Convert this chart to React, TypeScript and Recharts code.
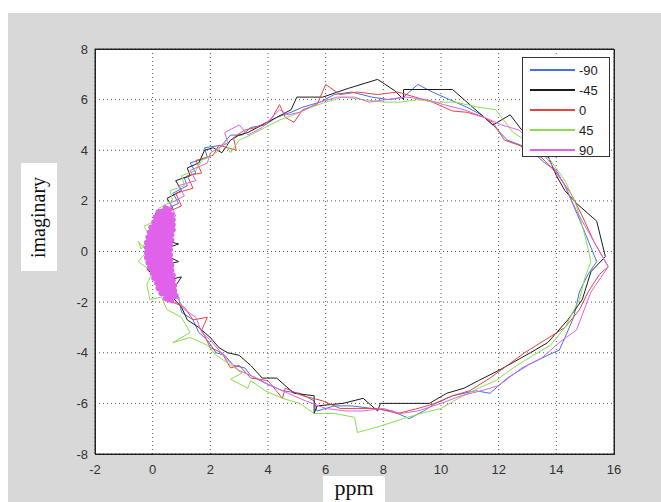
import { LineChart, Line, XAxis, YAxis, CartesianGrid } from 'recharts'

const X_TICKS = [-2, 0, 2, 4, 6, 8, 10, 12, 14, 16]
const Y_TICKS = [-8, -6, -4, -2, 0, 2, 4, 6, 8]

const LABELS = ['-90', '-45', '0', '45', '90']

const M90: [number, number][] = [
  [0.1, -0.5], [0.4, 0.3], [0.1, 0.8], [0.6, 1.2], [0.3, 1.6], [0.9, 1.9], [0.7, 2.3], [1.2, 2.6], [1.1, 2.9],
  [1.5, 3.1], [1.3, 3.5], [1.9, 3.7], [1.8, 4.1], [2.4, 4.2], [2.7, 4.6], [3.1, 4.6], [3.4, 4.9], [3.9, 5.0],
  [4.3, 5.3], [4.8, 5.5], [5.2, 5.7], [5.8, 5.9], [6.3, 6.2], [6.9, 6.3], [7.6, 6.1], [8.2, 6.0], [8.7, 6.1],
  [9.2, 6.6], [9.7, 6.3], [10.3, 6.0], [10.9, 5.7], [11.4, 5.4], [11.8, 5.0], [12.3, 4.4], [13.0, 4.1],
  [13.6, 3.5], [14.0, 3.2], [14.3, 2.6], [14.6, 1.8], [14.9, 1.0], [15.4, -0.4], [15.1, -0.9], [14.8, -1.6],
  [14.6, -2.6], [14.3, -3.4], [14.1, -3.9], [13.7, -4.1], [13.0, -4.5], [12.3, -5.0], [11.7, -5.6], [11.2, -5.5],
  [10.4, -5.7], [9.8, -6.0], [9.4, -6.3], [8.9, -6.6], [8.3, -6.3], [7.6, -6.2], [6.9, -6.1], [6.3, -6.1],
  [5.7, -6.3], [5.6, -5.9], [5.1, -5.6], [4.5, -5.5], [3.9, -5.2], [3.4, -4.9], [3.2, -4.6], [2.8, -4.5],
  [2.5, -4.1], [2.2, -4.0], [1.9, -3.5], [1.6, -3.2], [1.4, -2.7], [1.0, -2.4], [0.9, -1.8], [0.5, -1.4],
  [0.3, -0.9], [0.1, -0.5],
]

const M45: [number, number][] = [
  [0.2, 0.0], [0.9, 0.3], [-0.2, 0.6], [0.3, 1.0], [0.1, 1.5], [0.7, 1.7], [0.5, 2.1], [1.0, 2.4], [0.8, 2.8],
  [1.3, 3.0], [1.2, 3.3], [1.6, 3.5], [1.8, 4.0], [2.1, 4.1], [2.4, 3.9], [2.7, 4.4], [3.0, 4.6], [3.3, 4.7],
  [3.8, 5.0], [4.3, 5.3], [4.8, 5.6], [5.0, 6.1], [5.9, 6.1], [6.8, 6.45], [7.8, 6.8], [8.4, 6.35], [8.7, 6.0],
  [8.7, 6.4], [10.4, 6.4], [10.8, 6.0], [11.8, 5.0], [12.4, 5.4], [12.8, 4.8], [13.3, 4.3], [13.7, 3.8],
  [14.0, 3.0], [14.3, 2.4], [14.7, 1.9], [15.4, 1.2], [15.7, -0.2], [15.2, -0.8], [14.9, -1.9], [14.4, -2.7],
  [13.7, -3.6], [13.1, -4.0], [12.0, -4.7], [11.3, -5.1], [10.8, -5.4], [10.2, -5.6], [9.6, -6.0], [8.7, -6.0],
  [7.9, -6.0], [7.8, -6.3], [7.3, -5.8], [6.6, -6.0], [5.7, -6.1], [5.6, -6.4], [5.6, -5.7], [4.9, -5.6],
  [4.3, -5.0], [3.8, -5.0], [3.4, -4.5], [3.0, -4.1], [2.6, -4.0], [2.3, -3.8], [2.0, -3.4], [1.6, -3.0],
  [1.2, -2.7], [1.0, -2.2], [0.6, -1.7], [1.0, -1.0], [0.3, -1.2], [-0.2, -0.7], [0.9, -0.4], [0.2, 0.0],
]

const P0: [number, number][] = [
  [0.3, -0.2], [0.1, 0.5], [0.6, 1.0], [0.4, 1.5], [1.0, 1.8], [0.8, 2.3], [1.4, 2.5], [1.2, 3.0], [1.7, 3.1],
  [1.5, 3.6], [2.1, 3.8], [2.3, 4.2], [2.9, 4.0], [2.8, 4.5], [3.2, 4.8], [3.6, 4.9], [4.1, 5.2], [4.4, 5.8],
  [4.6, 5.3], [4.9, 5.1], [5.2, 5.6], [5.7, 5.8], [6.0, 6.6], [6.5, 6.2], [7.1, 6.3], [7.8, 6.2], [8.5, 6.3],
  [9.1, 6.1], [9.7, 5.9], [10.4, 5.55], [10.9, 5.5], [11.5, 5.3], [11.8, 5.1], [12.2, 4.4], [12.7, 4.2],
  [13.5, 3.7], [14.0, 3.1], [14.5, 2.3], [14.9, 1.4], [15.3, 0.4], [15.8, -0.6], [15.5, -0.9], [15.1, -1.6],
  [14.8, -2.3], [14.3, -3.0], [13.6, -3.5], [12.9, -4.0], [12.3, -4.5], [11.7, -5.0], [11.0, -5.5], [10.4, -5.7],
  [9.8, -6.0], [9.2, -6.2], [8.5, -6.4], [7.8, -6.2], [7.1, -6.2], [6.5, -6.2], [5.9, -5.9], [5.2, -5.7],
  [4.6, -5.4], [4.5, -5.8], [4.0, -5.1], [3.4, -5.0], [3.0, -4.5], [2.7, -4.6], [2.4, -4.0], [2.0, -3.8],
  [1.7, -3.1], [1.9, -2.6], [1.4, -2.7], [1.1, -2.2], [0.7, -2.0], [0.6, -1.4], [0.3, -0.9], [0.3, -0.2],
]

const P45: [number, number][] = [
  [-0.4, 0.1], [-0.1, 0.6], [-0.3, 1.0], [0.3, 1.3], [0.2, 1.7], [0.7, 2.0], [0.6, 2.4], [1.1, 2.6], [1.0, 3.0],
  [1.5, 3.2], [1.7, 3.6], [2.2, 3.9], [2.5, 4.3], [2.7, 3.9], [3.0, 4.4], [3.4, 4.6], [3.9, 4.9], [4.4, 5.2],
  [4.9, 5.4], [5.5, 5.7], [6.0, 5.9], [6.6, 6.1], [7.3, 6.0], [8.0, 5.9], [8.6, 5.9], [9.2, 6.0], [9.8, 5.9],
  [10.5, 5.9], [11.3, 5.7], [11.9, 5.6], [12.5, 4.7], [13.2, 4.2], [13.8, 3.6], [14.3, 2.8], [14.7, 1.8],
  [15.0, 0.6], [15.2, -0.4], [15.0, -1.0], [14.8, -1.9], [14.3, -3.0], [13.8, -3.7], [13.2, -4.1], [12.5, -4.6],
  [11.9, -5.1], [11.3, -5.4], [10.6, -5.8], [10.0, -6.2], [9.3, -6.4], [8.7, -6.6], [7.9, -6.9], [7.1, -7.15],
  [7.0, -6.55], [6.3, -6.4], [5.6, -6.4], [5.1, -6.0], [4.5, -5.8], [3.9, -5.5], [3.4, -5.1], [3.3, -5.4],
  [2.7, -5.05], [3.1, -4.8], [2.6, -4.4], [2.2, -4.1], [1.9, -3.7], [1.3, -3.4], [0.7, -3.6], [1.3, -3.2],
  [1.0, -2.6], [0.5, -2.3], [0.3, -1.8], [-0.1, -1.9], [-0.2, -1.3], [0.0, -0.8], [-0.5, -0.4], [-0.2, 0.0],
  [-0.5, 0.4], [-0.4, 0.1],
]

const P90: [number, number][] = [
  [0.2, 0.0], [0.5, 0.6], [0.2, 1.1], [0.8, 1.4], [0.6, 1.9], [1.1, 2.2], [0.9, 2.6], [1.5, 2.8], [1.3, 3.2],
  [1.9, 3.5], [2.0, 3.9], [2.6, 4.3], [2.5, 4.7], [3.0, 5.0], [3.3, 4.6], [3.8, 4.9], [4.4, 5.6], [4.7, 5.4],
  [5.1, 5.5], [5.8, 5.9], [6.4, 6.1], [7.0, 6.1], [7.5, 5.9], [8.1, 6.0], [8.8, 6.1], [9.5, 6.0], [10.1, 5.8],
  [10.8, 5.6], [11.5, 5.3], [12.1, 5.0], [12.7, 4.8], [13.2, 4.3], [13.8, 3.5], [14.3, 2.6], [14.7, 1.6],
  [15.2, 0.6], [15.8, -0.6], [15.2, -1.6], [14.7, -3.1], [14.1, -3.6], [13.5, -4.2], [12.8, -4.6], [12.0, -5.3],
  [11.4, -5.5], [10.7, -5.7], [10.0, -6.0], [9.2, -6.3], [8.6, -6.4], [8.0, -6.2], [7.3, -6.3], [6.7, -6.3],
  [6.0, -6.2], [5.3, -5.9], [4.7, -5.6], [4.1, -5.3], [3.6, -5.0], [3.0, -4.7], [2.6, -4.3], [2.3, -3.9],
  [2.0, -3.5], [1.7, -3.2], [1.5, -2.6], [1.1, -2.3], [0.9, -1.9], [0.5, -1.5], [0.3, -0.8], [0.2, 0.0],
]

// dense part of the 90 trace near the origin
const P90_CORE: [number, number][] = [
  [0.35, 1.75], [0.55, 1.65], [0.2, 1.55], [0.65, 1.45], [0.1, 1.35], [0.7, 1.25], [0.05, 1.15], [0.7, 1.05],
  [-0.05, 0.95], [0.7, 0.85], [-0.1, 0.75], [0.65, 0.65], [-0.15, 0.55], [0.65, 0.45], [-0.2, 0.35], [0.6, 0.25],
  [-0.2, 0.15], [0.6, 0.05], [-0.2, -0.05], [0.6, -0.15], [-0.2, -0.25], [0.6, -0.35], [-0.15, -0.45],
  [0.65, -0.55], [-0.1, -0.65], [0.65, -0.75], [0.0, -0.85], [0.7, -0.95], [0.05, -1.05], [0.7, -1.15],
  [0.15, -1.25], [0.75, -1.35], [0.2, -1.45], [0.75, -1.55], [0.3, -1.65], [0.8, -1.75], [0.45, -1.85],
  [0.75, -1.95],
]

const COLORS = ['#4272e6', '#1c1c1c', '#e8453f', '#86e052', '#e062ea']
const SERIES = [M90, M45, P0, P45, P90]

const toPts = (arr: [number, number][]) => arr.map(([x, y]) => ({ x, y }))

const tickStyle = { fontSize: 13, fill: '#333', fontFamily: 'Liberation Sans, Arial, sans-serif' }

export default function App() {
  return (
    <div style={{ position: 'relative', width: 661, height: 502, background: '#fff', overflow: 'hidden' }}>
      <style>{'body{margin:0}'}</style>
      <div style={{ position: 'absolute', left: 8, top: 13, right: 0, bottom: 0, background: '#d8d8d8' }} />

      <div style={{ position: 'absolute', left: 0, top: 0 }}>
        <LineChart width={661} height={502} margin={{ top: 44, right: 42, bottom: 18, left: 55 }}>
          <CartesianGrid
            stroke="#555"
            strokeDasharray="1 3"
            fill="#fff"
            fillOpacity={1}
            horizontalValues={Y_TICKS}
            verticalValues={X_TICKS}
          />
          <XAxis
            type="number"
            dataKey="x"
            domain={[-2, 16]}
            ticks={X_TICKS}
            height={30}
            tickSize={4}
            tickMargin={7}
            tickLine={false}
            axisLine={{ stroke: '#333' }}
            tick={tickStyle}
            interval={0}
            allowDataOverflow
          />
          <XAxis
            xAxisId="top"
            orientation="top"
            type="number"
            domain={[-2, 16]}
            ticks={X_TICKS}
            height={5}
            tick={false}
            tickLine={false}
            axisLine={{ stroke: '#333' }}
            interval={0}
          />
          <YAxis
            type="number"
            dataKey="y"
            domain={[-8, 8]}
            ticks={Y_TICKS}
            width={40}
            tickSize={0}
            tickMargin={7}
            tickLine={false}
            axisLine={{ stroke: '#333' }}
            tick={tickStyle}
            interval={0}
            allowDataOverflow
          />
          <YAxis
            yAxisId="right"
            orientation="right"
            type="number"
            domain={[-8, 8]}
            ticks={Y_TICKS}
            width={5}
            tick={false}
            tickLine={false}
            axisLine={{ stroke: '#333' }}
            interval={0}
          />
          {SERIES.map((s, i) => (
            <Line
              key={LABELS[i]}
              data={toPts(s)}
              dataKey="y"
              stroke={COLORS[i]}
              strokeWidth={1}
              dot={false}
              isAnimationActive={false}
            />
          ))}
          <Line
            data={toPts(P90_CORE)}
            dataKey="y"
            stroke={COLORS[4]}
            strokeWidth={6}
            strokeLinejoin="round"
            dot={false}
            isAnimationActive={false}
          />
        </LineChart>
      </div>

      {/* axes box */}
      <div
        style={{
          position: 'absolute',
          left: 95,
          top: 49,
          width: 518,
          height: 404,
          border: '1px solid #222',
          pointerEvents: 'none',
        }}
      />

      {/* legend */}
      <div
        style={{
          position: 'absolute',
          left: 522,
          top: 57,
          width: 86,
          height: 98,
          background: '#fff',
          border: '1px solid #333',
          fontFamily: 'Liberation Sans, Arial, sans-serif',
          fontSize: 13,
          color: '#222',
        }}
      >
        {LABELS.map((l, i) => (
          <div key={l} style={{ position: 'absolute', left: 0, top: 4 + i * 20, height: 16, display: 'flex', alignItems: 'center' }}>
            <div style={{ marginLeft: 7, width: 45, height: 2, background: COLORS[i] }} />
            <span style={{ marginLeft: 4 }}>{l}</span>
          </div>
        ))}
      </div>

      {/* axis titles */}
      <div
        style={{
          position: 'absolute',
          left: 21,
          top: 163,
          width: 36,
          height: 108,
          background: '#fff',
          display: 'flex',
          alignItems: 'center',
          justifyContent: 'center',
        }}
      >
        <span
          style={{
            transform: 'rotate(-90deg)',
            fontFamily: 'Liberation Serif, DejaVu Serif, serif',
            fontSize: 20,
            color: '#111',
            whiteSpace: 'nowrap',
          }}
        >
          imaginary
        </span>
      </div>
      <div
        style={{
          position: 'absolute',
          left: 323,
          top: 476,
          width: 62,
          height: 26,
          background: '#fff',
          textAlign: 'center',
          fontFamily: 'Liberation Serif, DejaVu Serif, serif',
          fontSize: 22,
          lineHeight: '24px',
          color: '#111',
        }}
      >
        ppm
      </div>
    </div>
  )
}
